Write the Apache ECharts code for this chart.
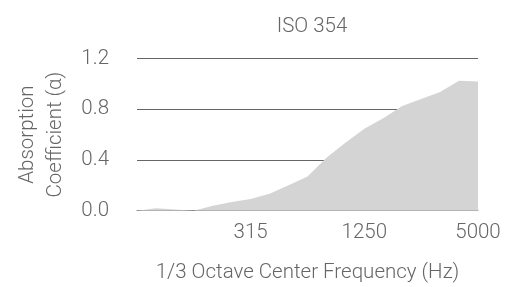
<!DOCTYPE html>
<html><head><meta charset="utf-8">
<script src="https://cdn.jsdelivr.net/npm/echarts@6/dist/echarts.min.js"></script>
<style>html,body{margin:0;padding:0;background:#fff}#c{width:516px;height:287px}</style>
</head><body><div id="c"></div>
<script>
const frequencies = ['80','100','125','160','200','250','315','400','500','630','800','1000','1250','1600','2000','2500','3150','4000','5000'];
const absorption = [0.0, 0.02, 0.01, 0.0, 0.04, 0.068, 0.093, 0.133, 0.20, 0.27, 0.418, 0.536, 0.646, 0.728, 0.826, 0.88, 0.935, 1.025, 1.018];
const yTicks = [0, 0.4, 0.8, 1.2];
const title = 'ISO 354';
const FONT = 'Roboto';
const TXT = '#666';
const FS = 20.5;
const chart = echarts.init(document.getElementById('c'));
chart.setOption({
  animation: false,
  title: { text: title, left: 307, top: 11, textAlign: 'center',
    textStyle: { fontFamily: FONT, fontWeight: 300, fontSize: FS, color: TXT } },
  grid: { left: 137, right: 38, top: 58.5, bottom: 76.3, outerBoundsMode: 'none', containLabel: false },
  xAxis: {
    type: 'category', data: frequencies, boundaryGap: false,
    name: '1/3 Octave Center Frequency (Hz)', nameLocation: 'middle', nameGap: 52,
    nameTextStyle: { fontFamily: FONT, fontWeight: 300, fontSize: FS, color: TXT },
    axisLine: { lineStyle: { color: '#888', width: 1 } },
    axisTick: { show: false },
    axisLabel: { interval: (i) => i > 0 && i % 6 === 0, margin: 12,
      fontFamily: FONT, fontWeight: 300, fontSize: FS, color: TXT },
    splitLine: { show: false }
  },
  yAxis: {
    type: 'value', min: 0, max: 1.2, interval: 0.4,
    name: 'Absorption\nCoefficient (α)', nameLocation: 'middle', nameGap: 67, nameRotate: 90,
    nameTextStyle: { fontFamily: FONT, fontWeight: 300, fontSize: FS, color: TXT, lineHeight: 28 },
    axisLine: { show: false }, axisTick: { show: false },
    axisLabel: { margin: 28, formatter: (v) => v.toFixed(1),
      fontFamily: FONT, fontWeight: 300, fontSize: FS, color: TXT },
    splitLine: { lineStyle: { color: '#666', width: 1 } }
  },
  series: [{
    type: 'line', data: absorption, symbol: 'none',
    lineStyle: { width: 0 }, areaStyle: { color: '#d4d4d4', opacity: 1 }
  }]
});
</script></body></html>
